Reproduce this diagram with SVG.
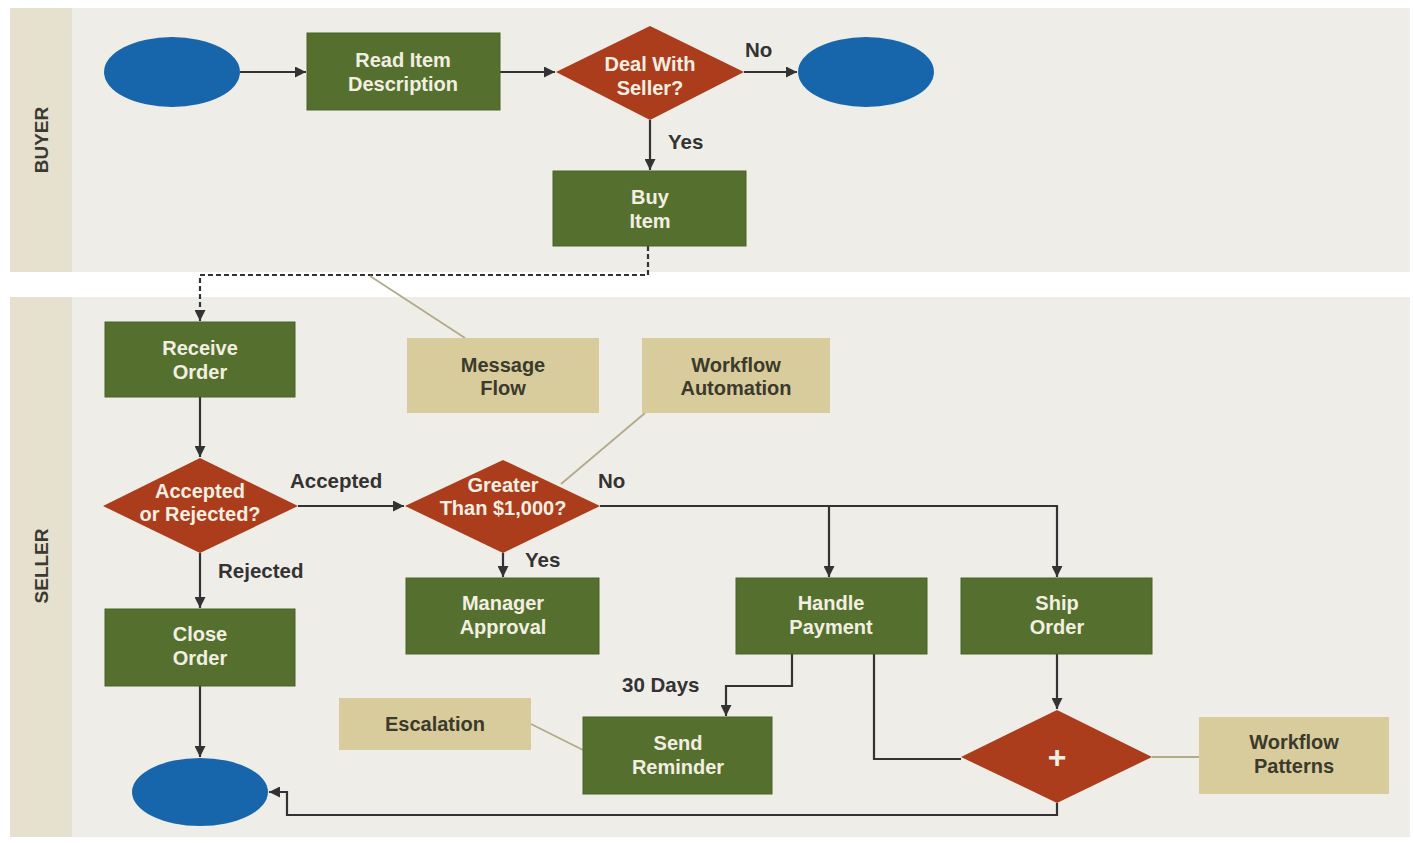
<svg xmlns="http://www.w3.org/2000/svg" width="1413" height="843" viewBox="0 0 1413 843">
<defs>
<marker id="ah" viewBox="0 0 10 10" refX="10" refY="5" markerWidth="11" markerHeight="11" markerUnits="userSpaceOnUse" orient="auto">
<path d="M0,0 L10,5 L0,10 z" fill="#333"/>
</marker>
</defs>
<style>
.lane{fill:#efede7}
.strip{fill:#e6e1cf}
.lanelbl{font-family:"Liberation Sans",Arial,sans-serif;font-weight:bold;font-size:19px;fill:#3a3a32}
.task{fill:#55702e;stroke:#4a6326;stroke-width:1}
.dec{fill:#ab3d1d}
.ev{fill:#1766ab}
.note{fill:#d9cc9c}
.tt{font-family:"Liberation Sans",Arial,sans-serif;font-weight:bold;font-size:20px;fill:#f2efe2;text-anchor:middle}
.nt{font-family:"Liberation Sans",Arial,sans-serif;font-weight:bold;font-size:20px;fill:#3b3a2c;text-anchor:middle}
.lbl{font-family:"Liberation Sans",Arial,sans-serif;font-weight:bold;font-size:20.5px;fill:#333}
.flow{fill:none;stroke:#333;stroke-width:2.2}
.msg{fill:none;stroke:#333;stroke-width:2.2;stroke-dasharray:5,3}
.assoc{fill:none;stroke:#b3aa88;stroke-width:1.8}
</style>
<rect width="1413" height="843" fill="#ffffff"/>
<g id="lane-buyer">
<rect class="lane" x="10" y="8" width="1400" height="264"/>
<rect class="strip" x="10" y="8" width="62" height="264"/>
<text class="lanelbl" transform="translate(48,140) rotate(-90)" text-anchor="middle">BUYER</text>
</g>
<g id="lane-seller">
<rect class="lane" x="10" y="297" width="1400" height="540"/>
<rect class="strip" x="10" y="297" width="62" height="540"/>
<text class="lanelbl" transform="translate(48,566) rotate(-90)" text-anchor="middle">SELLER</text>
</g>
<g id="connectors">
<path class="flow" d="M240,72 L306,72" marker-end="url(#ah)"/>
<path class="flow" d="M500,72 L555,72" marker-end="url(#ah)"/>
<path class="flow" d="M744,72 L797,72" marker-end="url(#ah)"/>
<path class="flow" d="M650,120 L650,170" marker-end="url(#ah)"/>
<path class="msg" d="M648,246 L648,275 L200,275 L200,321" marker-end="url(#ah)"/>
<path class="flow" d="M200,397 L200,457" marker-end="url(#ah)"/>
<path class="flow" d="M298,506 L404,506" marker-end="url(#ah)"/>
<path class="flow" d="M200,553 L200,608" marker-end="url(#ah)"/>
<path class="flow" d="M503,553 L503,577" marker-end="url(#ah)"/>
<path class="flow" d="M600,506 L1057,506 L1057,577" marker-end="url(#ah)"/>
<path class="flow" d="M829,506 L829,577" marker-end="url(#ah)"/>
<path class="flow" d="M200,686 L200,757" marker-end="url(#ah)"/>
<path class="flow" d="M792,654 L792,686 L726,686 L726,716" marker-end="url(#ah)"/>
<path class="flow" d="M874,654 L874,759 L961,759"/>
<path class="flow" d="M1057,654 L1057,709" marker-end="url(#ah)"/>
<path class="flow" d="M1057,803 L1057,815 L287,815 L287,792 L269,792" marker-end="url(#ah)"/>
<path class="assoc" d="M370,276 L465,338"/>
<path class="assoc" d="M645,413 L561,484"/>
<path class="assoc" d="M531,724 L583,750"/>
<path class="assoc" d="M1152,757 L1199,757"/>
</g>
<g id="start-buyer"><ellipse class="ev" cx="172" cy="72" rx="68" ry="35"/></g>
<g id="read-item">
<rect class="task" x="307" y="33" width="193" height="77"/>
<text class="tt" x="403" y="67">Read Item</text>
<text class="tt" x="403" y="91">Description</text>
</g>
<g id="deal-with-seller">
<polygon class="dec" points="650,26 744,72 650,120 556,72"/>
<text class="tt" x="650" y="71">Deal With</text>
<text class="tt" x="650" y="95">Seller?</text>
</g>
<g id="end-buyer"><ellipse class="ev" cx="866" cy="72" rx="68" ry="35"/></g>
<g id="buy-item">
<rect class="task" x="553" y="171" width="193" height="75"/>
<text class="tt" x="650" y="204">Buy</text>
<text class="tt" x="650" y="228">Item</text>
</g>
<g id="receive-order">
<rect class="task" x="105" y="322" width="190" height="75"/>
<text class="tt" x="200" y="355">Receive</text>
<text class="tt" x="200" y="379">Order</text>
</g>
<g id="message-flow-note">
<rect class="note" x="407" y="338" width="192" height="75"/>
<text class="nt" x="503" y="372">Message</text>
<text class="nt" x="503" y="395">Flow</text>
</g>
<g id="workflow-automation-note">
<rect class="note" x="642" y="338" width="188" height="75"/>
<text class="nt" x="736" y="372">Workflow</text>
<text class="nt" x="736" y="395">Automation</text>
</g>
<g id="accepted-rejected">
<polygon class="dec" points="200,458 298,506 200,553 103,506"/>
<text class="tt" x="200" y="498" font-size="18">Accepted</text>
<text class="tt" x="200" y="521" font-size="18">or Rejected?</text>
</g>
<g id="greater-than">
<polygon class="dec" points="503,460 600,506 503,553 405,506"/>
<text class="tt" x="503" y="492" font-size="18">Greater</text>
<text class="tt" x="503" y="515" font-size="18">Than $1,000?</text>
</g>
<g id="manager-approval">
<rect class="task" x="406" y="578" width="193" height="76"/>
<text class="tt" x="503" y="610">Manager</text>
<text class="tt" x="503" y="634">Approval</text>
</g>
<g id="close-order">
<rect class="task" x="105" y="609" width="190" height="77"/>
<text class="tt" x="200" y="641">Close</text>
<text class="tt" x="200" y="665">Order</text>
</g>
<g id="end-seller"><ellipse class="ev" cx="200" cy="792" rx="68" ry="34"/></g>
<g id="handle-payment">
<rect class="task" x="736" y="578" width="191" height="76"/>
<text class="tt" x="831" y="610">Handle</text>
<text class="tt" x="831" y="634">Payment</text>
</g>
<g id="ship-order">
<rect class="task" x="961" y="578" width="191" height="76"/>
<text class="tt" x="1057" y="610">Ship</text>
<text class="tt" x="1057" y="634">Order</text>
</g>
<g id="escalation-note">
<rect class="note" x="339" y="698" width="192" height="52"/>
<text class="nt" x="435" y="731">Escalation</text>
</g>
<g id="send-reminder">
<rect class="task" x="583" y="717" width="189" height="77"/>
<text class="tt" x="678" y="750">Send</text>
<text class="tt" x="678" y="774">Reminder</text>
</g>
<g id="parallel-gateway">
<polygon class="dec" points="1057,710 1152,757 1057,803 961,757"/>
<text x="1057" y="768" text-anchor="middle" font-family="Liberation Sans, Arial, sans-serif" font-weight="bold" font-size="32" fill="#f2efe2">+</text>
</g>
<g id="workflow-patterns-note">
<rect class="note" x="1199" y="717" width="190" height="77"/>
<text class="nt" x="1294" y="749">Workflow</text>
<text class="nt" x="1294" y="773">Patterns</text>
</g>
<g id="labels">
<text class="lbl" x="745" y="57">No</text>
<text class="lbl" x="668" y="149">Yes</text>
<text class="lbl" x="290" y="488">Accepted</text>
<text class="lbl" x="598" y="488">No</text>
<text class="lbl" x="525" y="567">Yes</text>
<text class="lbl" x="218" y="578">Rejected</text>
<text class="lbl" x="622" y="692">30 Days</text>
</g>
</svg>
